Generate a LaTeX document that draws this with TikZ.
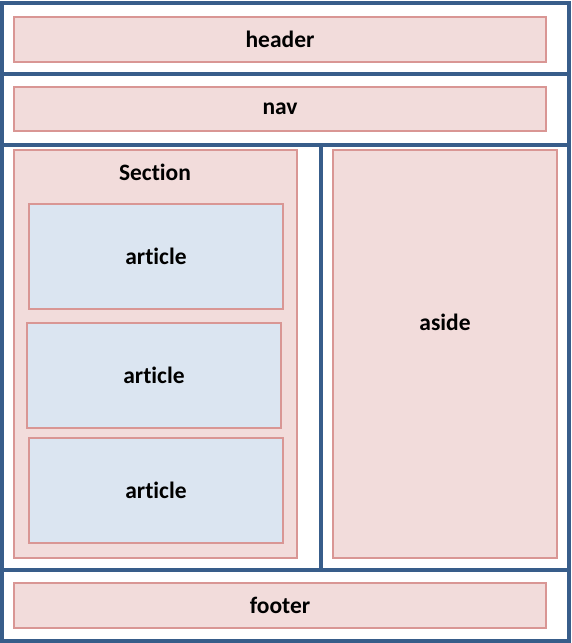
\documentclass[tikz,border=0pt]{standalone}
\usepackage{fontspec}
\setmainfont{Carlito}[Ligatures=NoCommon]
\usetikzlibrary{positioning}
\definecolor{frameblue}{RGB}{56,93,138}
\definecolor{pinkfill}{RGB}{242,220,219}
\definecolor{pinkline}{RGB}{217,150,148}
\definecolor{bluefill}{RGB}{219,229,241}
\tikzset{
    frameline/.style={
        line width=4pt,
        frameblue
    },
    % boxes of the page layout
    pinkbox/.style={
        draw=pinkline,
        fill=pinkfill,
        line width=1.8pt,
        inner sep=0pt,
        font=\bfseries\fontsize{23.5}{28}\selectfont
    },
    bluebox/.style={
        pinkbox,
        fill=bluefill
    },
    boxlabel/.style={
        font=\bfseries\fontsize{23.5}{28}\selectfont
    }
}

\begin{document}
\begin{tikzpicture}[x=1pt,y=-1pt]
    \useasboundingbox (0,0) rectangle (571,643);

    % outer frame and separators
    \draw[frameline] (2,2.5) rectangle (569,640.5);
    \draw[frameline] (2,73.5) -- (569,73.5);
    \draw[frameline] (2,145) -- (569,145);
    \draw[frameline] (2,570) -- (569,570);
    \draw[frameline] (321,145) -- (321,570);

    % header, nav, footer
    \node[pinkbox, minimum width=532pt, minimum height=45pt] (header) at (280,39.5) {header};
    \node[pinkbox, minimum width=532pt, minimum height=44pt] (nav) at (280,109) {nav};
    \node[pinkbox, minimum width=532pt, minimum height=45pt] (footer) at (280,605.5) {footer};

    % section with articles
    \node[pinkbox, minimum width=283pt, minimum height=408pt] (section) at (155.5,354) {};
    \node[boxlabel] (sectitle) at (155,172) {Section};
    \node[bluebox, minimum width=254pt, minimum height=105pt] (art1) at (156,256.5) {article};
    \node[bluebox, minimum width=254pt, minimum height=105pt] (art2) at (154,375.5) {article};
    \node[bluebox, minimum width=254pt, minimum height=105pt] (art3) at (156,490.5) {article};

    % aside
    \node[pinkbox, minimum width=224pt, minimum height=408pt] (aside) at (445,354) {};
    \node[boxlabel] (asidetitle) at (445,322) {aside};
\end{tikzpicture}
\end{document}
